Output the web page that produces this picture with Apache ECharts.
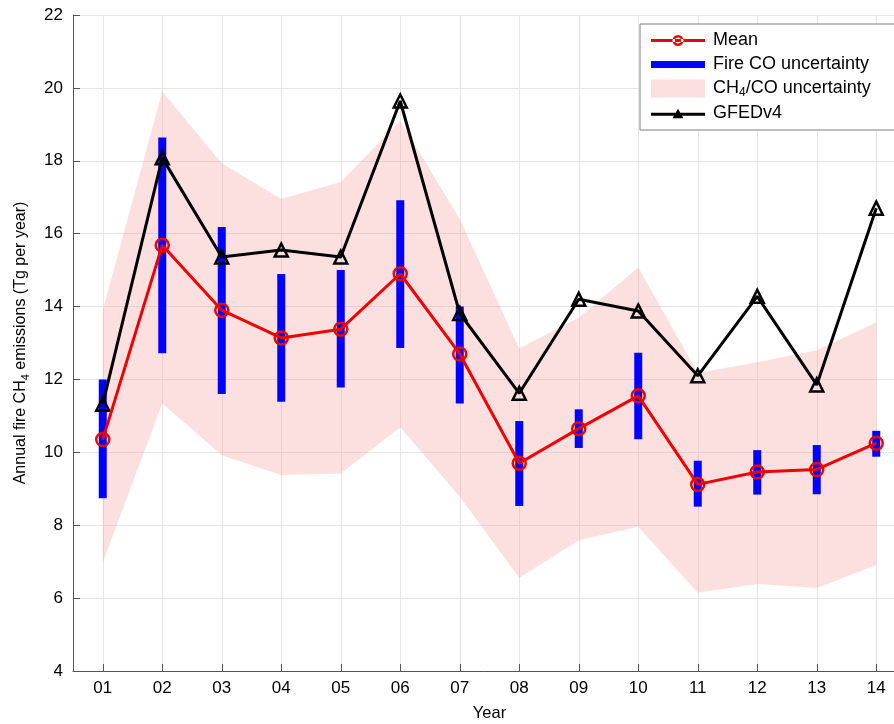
<!DOCTYPE html>
<html>
<head>
<meta charset="utf-8">
<script src="https://cdn.jsdelivr.net/npm/echarts@6/dist/echarts.min.js"></script>
<style>
  html, body { margin: 0; padding: 0; background: #ffffff; }
  #chart { width: 894px; height: 724px; }
</style>
</head>
<body>
<div id="chart"></div>
<script>
// Year labels (2001–2014)
const years = ['01', '02', '03', '04', '05', '06', '07', '08', '09', '10', '11', '12', '13', '14'];

// Mean annual fire CH4 emissions (Tg per year)
const meanVals = [10.35, 15.68, 13.90, 13.14, 13.38, 14.90, 12.70, 9.70, 10.65, 11.55, 9.12, 9.46, 9.53, 10.25];

// GFEDv4 inventory
const gfedVals = [11.32, 18.08, 15.36, 15.55, 15.36, 19.64, 13.81, 11.62, 14.20, 13.88, 12.10, 14.28, 11.85, 16.70];

// Fire CO uncertainty range
const fireLow  = [8.74, 12.72, 11.60, 11.39, 11.78, 12.86, 11.34, 8.53, 10.12, 10.36, 8.51, 8.84, 8.85, 9.88];
const fireHigh = [12.00, 18.64, 16.18, 14.89, 15.00, 16.92, 14.00, 10.86, 11.18, 12.73, 9.77, 10.06, 10.20, 10.59];

// CH4/CO ratio uncertainty envelope
const bandLow  = [6.98, 11.34, 9.92, 9.38, 9.42, 10.69, 8.78, 6.56, 7.59, 7.96, 6.15, 6.39, 6.28, 6.91];
const bandHigh = [13.90, 19.90, 17.93, 16.95, 17.42, 19.10, 16.40, 12.85, 13.70, 15.07, 12.18, 12.47, 12.80, 13.56];

// Y axis range
const yMin = 4, yMax = 22, yStep = 2;

const FONT = 'Liberation Sans';
const BAND_NAME = 'CH4/CO uncertainty';
const BAND_FILL = 'rgba(245,130,130,0.25)';

// Legend glyphs: line with a ring, thick bar, line with a triangle
const ICON_MEAN = 'path://M0,7.5H54V10.5H0Z' +
  'M32.5,9A5.5,5.5 0 1,0 21.5,9A5.5,5.5 0 1,0 32.5,9Z' +
  'M30,9A3,3 0 1,1 24,9A3,3 0 1,1 30,9Z';
const ICON_BAR = 'path://M0,0H54V7H0Z';
const ICON_GFED = 'path://M0,7.5H54V10.5H0Z' +
  'M27,3.5L32.5,13L21.5,13Z';

const bandSpan = bandHigh.map((h, i) => +(h - bandLow[i]).toFixed(3));
const fireData = years.map((y, i) => [i, fireLow[i], fireHigh[i]]);

const chart = echarts.init(document.getElementById('chart'), null, { renderer: 'canvas' });

const richText = {
  f: { fontFamily: FONT, fontSize: 18, lineHeight: 20, color: '#000', padding: [0, 0, 0, 3] },
  a: { fontFamily: FONT, fontSize: 18, lineHeight: 20, color: '#000' },
  s: { fontFamily: FONT, fontSize: 12, lineHeight: 12, color: '#000', verticalAlign: 'bottom' }
};

chart.setOption({
  animation: false,
  backgroundColor: '#ffffff',
  textStyle: { fontFamily: FONT },
  grid: { left: 73, right: -12, top: 15, bottom: 53, containLabel: false, outerBoundsMode: 'none' },
  legend: {
    orient: 'vertical',
    left: 640,
    top: 24,
    padding: [7.5, 60, 7.5, 11],
    itemWidth: 54,
    itemHeight: 18,
    itemGap: 6,
    backgroundColor: '#ffffff',
    borderColor: '#808080',
    borderWidth: 1,
    borderRadius: 0,
    selectedMode: false,
    textStyle: { fontFamily: FONT, fontSize: 18, color: '#000', rich: richText },
    formatter: function (name) {
      if (name === BAND_NAME) return '{f|CH}{s|4}{a|/CO uncertainty}';
      return '{f|' + name + '}';
    },
    data: [
      { name: 'Mean', icon: ICON_MEAN, itemStyle: { color: '#f00000', borderWidth: 0 } },
      { name: 'Fire CO uncertainty', icon: ICON_BAR, itemStyle: { color: '#0000ff', borderWidth: 0 } },
      { name: BAND_NAME, icon: 'rect', itemStyle: { color: BAND_FILL, borderWidth: 0 } },
      { name: 'GFEDv4', icon: ICON_GFED, itemStyle: { color: '#000000', borderWidth: 0 } }
    ]
  },
  xAxis: {
    type: 'category',
    data: years,
    boundaryGap: true,
    name: 'Year',
    nameLocation: 'middle',
    nameGap: 34,
    nameTextStyle: { fontFamily: FONT, fontSize: 16.5, color: '#000' },
    axisLine: { show: true, lineStyle: { color: '#555', width: 1 } },
    axisTick: { show: true, inside: true, length: 7, alignWithLabel: true, lineStyle: { color: '#555' } },
    axisLabel: { fontFamily: FONT, fontSize: 17, color: '#000', margin: 9 },
    splitLine: { show: true, alignWithLabel: true, lineStyle: { color: '#e6e6e6', width: 1 } }
  },
  yAxis: {
    type: 'value',
    min: yMin,
    max: yMax,
    interval: yStep,
    name: '{a|Annual fire CH}{s|4}{a| emissions (Tg per year)}',
    nameLocation: 'middle',
    nameGap: 42,
    nameTextStyle: {
      fontFamily: FONT,
      fontSize: 16,
      color: '#000',
      rich: {
        a: { fontFamily: FONT, fontSize: 16, lineHeight: 20, color: '#000' },
        s: { fontFamily: FONT, fontSize: 11, lineHeight: 11, color: '#000', verticalAlign: 'bottom' }
      }
    },
    axisLine: { show: true, lineStyle: { color: '#555', width: 1 } },
    axisTick: { show: true, inside: true, length: 7, lineStyle: { color: '#555' } },
    axisLabel: { fontFamily: FONT, fontSize: 17, color: '#000', margin: 10 },
    splitLine: { show: true, lineStyle: { color: '#e6e6e6', width: 1 } }
  },
  series: [
    {
      name: 'bandBase',
      type: 'line',
      stack: 'band',
      data: bandLow,
      symbol: 'none',
      lineStyle: { width: 0, opacity: 0 },
      silent: true,
      z: 1
    },
    {
      name: BAND_NAME,
      type: 'line',
      stack: 'band',
      data: bandSpan,
      symbol: 'none',
      itemStyle: { color: BAND_FILL },
      lineStyle: { width: 0, opacity: 0 },
      areaStyle: { color: BAND_FILL, opacity: 1 },
      silent: true,
      z: 1
    },
    {
      name: 'Fire CO uncertainty',
      type: 'custom',
      data: fireData,
      encode: { x: 0, y: [1, 2] },
      itemStyle: { color: '#0000ff' },
      z: 2,
      renderItem: function (params, api) {
        const idx = api.value(0);
        const top = api.coord([idx, api.value(2)]);
        const bot = api.coord([idx, api.value(1)]);
        return {
          type: 'rect',
          shape: { x: top[0] - 4, y: top[1], width: 8, height: bot[1] - top[1] },
          style: { fill: '#0000ff' }
        };
      }
    },
    {
      name: 'GFEDv4',
      type: 'line',
      data: gfedVals,
      symbol: 'triangle',
      symbolSize: 13,
      itemStyle: { color: 'rgba(255,255,255,0)', borderColor: '#000', borderWidth: 2.5 },
      lineStyle: { color: '#000', width: 3 },
      z: 3
    },
    {
      name: 'Mean',
      type: 'line',
      data: meanVals,
      symbol: 'circle',
      symbolSize: 13,
      itemStyle: { color: 'rgba(255,255,255,0)', borderColor: '#f00000', borderWidth: 2.5 },
      lineStyle: { color: '#f00000', width: 3 },
      z: 4
    }
  ]
});
</script>
</body>
</html>
